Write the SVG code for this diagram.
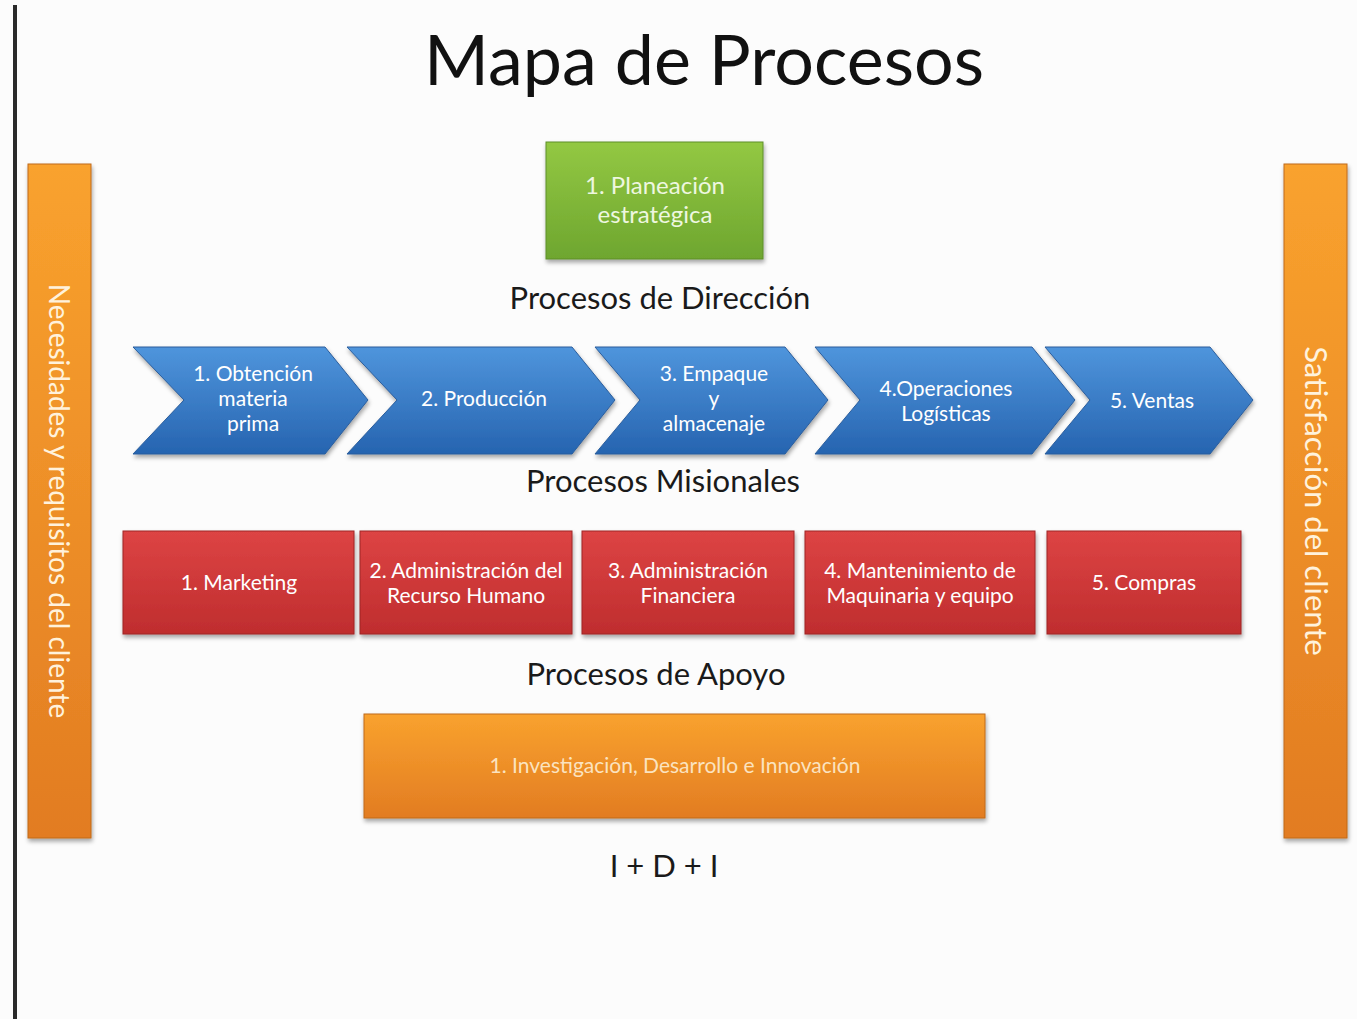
<svg xmlns="http://www.w3.org/2000/svg" width="1357" height="1019" viewBox="0 0 1357 1019">
<defs>
<linearGradient id="gOr" x1="0" y1="0" x2="0" y2="1"><stop offset="0" stop-color="#f9a22e"/><stop offset="1" stop-color="#e27c22"/></linearGradient>
<linearGradient id="gBl" x1="0" y1="0" x2="0" y2="1"><stop offset="0" stop-color="#4f95dc"/><stop offset="1" stop-color="#2664b0"/></linearGradient>
<linearGradient id="gRd" x1="0" y1="0" x2="0" y2="1"><stop offset="0" stop-color="#dd4444"/><stop offset="1" stop-color="#bf2d2e"/></linearGradient>
<linearGradient id="gGr" x1="0" y1="0" x2="0" y2="1"><stop offset="0" stop-color="#93c843"/><stop offset="1" stop-color="#6ea62f"/></linearGradient>
<filter id="sh" x="-10%" y="-10%" width="120%" height="130%"><feDropShadow dx="1" dy="3" stdDeviation="2" flood-color="#000" flood-opacity="0.35"/></filter>
</defs>
<style>
.t{font-family:Lato,"Open Sans","Liberation Sans",sans-serif;text-anchor:middle}
.w{fill:#ffffff;font-size:21px}
.h{fill:#1a1a1a;font-size:31px}
.bl{fill:url(#gBl);stroke:#2a5d9c;stroke-width:1}
.rd{fill:url(#gRd);stroke:#9e2727;stroke-width:1}
.or{fill:url(#gOr);stroke:#c06a1c;stroke-width:1}
</style>
<rect width="1357" height="1019" fill="#fcfcfc"/>
<rect x="13" y="5" width="4" height="1014" fill="#2a2a2a"/>
<text class="t" x="704" y="85" style="font-size:70px;fill:#111">Mapa de Procesos</text>

<g id="necesidades">
<rect class="or" x="28" y="164" width="63" height="674" filter="url(#sh)"/>
<text class="t w" transform="translate(49,501) rotate(90)" style="font-size:28px;fill:#fff2dc">Necesidades y requisitos del cliente</text>
</g>
<g id="satisfaccion">
<rect class="or" x="1284" y="164" width="63" height="674" filter="url(#sh)"/>
<text class="t w" transform="translate(1305,501) rotate(90)" style="font-size:31px;fill:#fff2dc">Satisfacción del cliente</text>
</g>

<g id="planeacion">
<rect x="546" y="142" width="217" height="117" fill="url(#gGr)" stroke="#5f8f2a" filter="url(#sh)"/>
<text class="t w" x="655" y="194" style="font-size:24px;fill:#eef7e0">1. Planeación</text>
<text class="t w" x="655" y="223" style="font-size:24px;fill:#eef7e0">estratégica</text>
</g>
<text class="t h" x="660" y="309">Procesos de Dirección</text>

<g id="obtencion">
<polygon class="bl" points="133,347 325,347 368,400 325,454 133,454 184,400" filter="url(#sh)"/>
<text class="t w" x="253" y="381">1. Obtención</text>
<text class="t w" x="253" y="406">materia</text>
<text class="t w" x="253" y="431">prima</text>
</g>
<g id="produccion">
<polygon class="bl" points="347,347 572,347 615,400 572,454 347,454 397,400" filter="url(#sh)"/>
<text class="t w" x="484" y="406">2. Producción</text>
</g>
<g id="empaque">
<polygon class="bl" points="595,347 785,347 828,400 785,454 595,454 640,400" filter="url(#sh)"/>
<text class="t w" x="714" y="381">3. Empaque</text>
<text class="t w" x="714" y="406">y</text>
<text class="t w" x="714" y="431">almacenaje</text>
</g>
<g id="operaciones">
<polygon class="bl" points="815,347 1032,347 1075,400 1032,454 815,454 860,400" filter="url(#sh)"/>
<text class="t w" x="946" y="396">4.Operaciones</text>
<text class="t w" x="946" y="421">Logísticas</text>
</g>
<g id="ventas">
<polygon class="bl" points="1045,347 1210,347 1253,400 1210,454 1045,454 1090,400" filter="url(#sh)"/>
<text class="t w" x="1152" y="408">5. Ventas</text>
</g>
<text class="t h" x="663" y="492">Procesos Misionales</text>

<g id="marketing">
<rect class="rd" x="123" y="531" width="231" height="103" filter="url(#sh)"/>
<text class="t w" x="239" y="590">1. Marketing</text>
</g>
<g id="rrhh">
<rect class="rd" x="360" y="531" width="212" height="103" filter="url(#sh)"/>
<text class="t w" x="466" y="578">2. Administración del</text>
<text class="t w" x="466" y="603">Recurso Humano</text>
</g>
<g id="financiera">
<rect class="rd" x="582" y="531" width="212" height="103" filter="url(#sh)"/>
<text class="t w" x="688" y="578">3. Administración</text>
<text class="t w" x="688" y="603">Financiera</text>
</g>
<g id="mantenimiento">
<rect class="rd" x="805" y="531" width="230" height="103" filter="url(#sh)"/>
<text class="t w" x="920" y="578">4. Mantenimiento de</text>
<text class="t w" x="920" y="603">Maquinaria y equipo</text>
</g>
<g id="compras">
<rect class="rd" x="1047" y="531" width="194" height="103" filter="url(#sh)"/>
<text class="t w" x="1144" y="590">5. Compras</text>
</g>
<text class="t h" x="656" y="685">Procesos de Apoyo</text>

<g id="idi">
<rect class="or" x="364" y="714" width="621" height="104" filter="url(#sh)"/>
<text class="t w" x="675" y="773" style="fill:#fbe3c0">1. Investigación, Desarrollo e Innovación</text>
</g>
<text class="t h" x="664" y="877">I + D + I</text>
<g id="connectors"></g>
</svg>
